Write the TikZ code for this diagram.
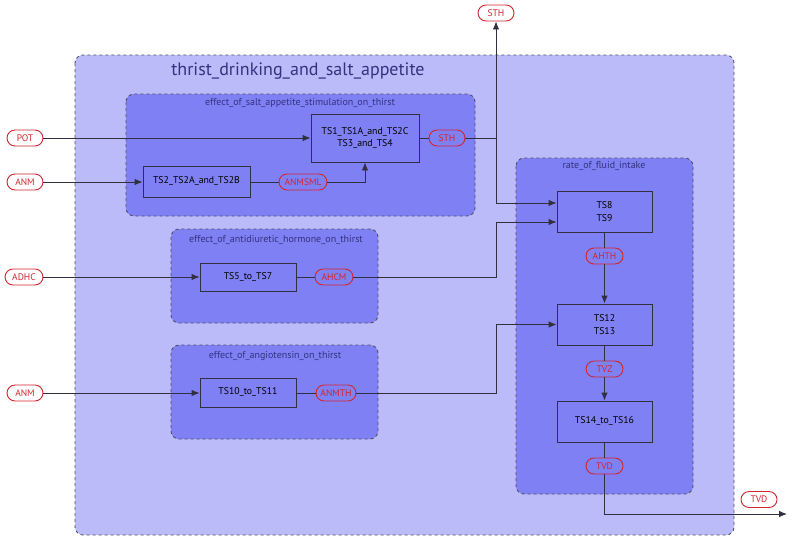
\documentclass[tikz,border=0pt]{standalone}
\usepackage{fontspec}
\setmainfont{PT Sans}
\usetikzlibrary{arrows.meta,shapes.misc}
\definecolor{outerfill}{HTML}{BBBBFA}
\definecolor{innerfill}{HTML}{8080F5}
\definecolor{grpborder}{HTML}{505060}
\definecolor{titleblue}{HTML}{33337F}
\definecolor{varred}{HTML}{D0262E}
\definecolor{linegray}{HTML}{303040}
\begin{document}
\begin{tikzpicture}[x=1pt,y=-1pt,
  outergrp/.style={draw=grpborder,dashed,fill=outerfill,rounded corners=8pt,line width=0.9pt},
  innergrp/.style={draw=grpborder,dashed,fill=innerfill,rounded corners=8pt,line width=0.9pt},
  procbox/.style={draw=linegray,fill=innerfill,line width=0.9pt,inner sep=0pt,align=center,font=\fontsize{9.8}{12.5}\selectfont},
  varnode/.style={draw=varred,rounded rectangle,text=varred,line width=0.9pt,inner sep=0pt,minimum height=16pt,font=\fontsize{9.5}{10}\selectfont},
  varin/.style={varnode,fill=white},
  conn/.style={draw=linegray,line width=0.9pt},
  arr/.style={conn,-{Latex[length=8pt,width=6.5pt]}},
  gtitle/.style={text=titleblue,font=\fontsize{10}{12}\selectfont,inner sep=0pt},
]
\useasboundingbox (0,0) rectangle (791,541);
% groups
\path[outergrp] (75,55) rectangle (734,535);
\node[gtitle,font=\fontsize{18}{21}\selectfont] (title) at (298,71) {thrist\_drinking\_and\_salt\_appetite};
\path[innergrp] (126,94) rectangle (475,216);
\node[gtitle] (g1) at (300,103) {effect\_of\_salt\_appetite\_stimulation\_on\_thirst};
\path[innergrp] (171,229) rectangle (378,323);
\node[gtitle] (g2) at (276,240) {effect\_of\_antidiuretic\_hormone\_on\_thirst};
\path[innergrp] (171,345) rectangle (378,439);
\node[gtitle] (g3) at (275,356) {effect\_of\_angiotensin\_on\_thirst};
\path[innergrp] (516,158) rectangle (693,494);
\node[gtitle] (g4) at (604,166) {rate\_of\_fluid\_intake};
% process boxes
\node[procbox,minimum width=108pt,minimum height=48pt] (ts1) at (365,138) {TS1\_TS1A\_and\_TS2C\\TS3\_and\_TS4};
\node[procbox,minimum width=107pt,minimum height=31pt] (ts2) at (196.5,181.5) {TS2\_TS2A\_and\_TS2B};
\node[procbox,minimum width=96pt,minimum height=28pt] (ts5) at (248,277) {TS5\_to\_TS7};
\node[procbox,minimum width=96pt,minimum height=29pt] (ts10) at (248,392.5) {TS10\_to\_TS11};
\node[procbox,minimum width=95pt,minimum height=41pt] (ts8) at (604.5,211.5) {TS8\\TS9};
\node[procbox,minimum width=95pt,minimum height=41pt] (ts12) at (604.5,324.5) {TS12\\TS13};
\node[procbox,minimum width=95pt,minimum height=41pt] (ts14) at (604.5,421.5) {TS14\_to\_TS16};
% variables
\node[varin,minimum width=36pt] (pot) at (25,138) {POT};
\node[varin,minimum width=36pt] (anm1) at (25,182) {ANM};
\node[varin,minimum width=38pt] (adhc) at (24,277) {ADHC};
\node[varin,minimum width=36pt] (anm2) at (25,393) {ANM};
\node[varin,minimum width=36pt] (sthout) at (496,13) {STH};
\node[varin,minimum width=36pt] (tvdout) at (759,499.5) {TVD};
\node[varnode,minimum width=48pt] (anmsml) at (303,182) {ANMSML};
\node[varnode,minimum width=36pt] (sthin) at (447,138) {STH};
\node[varnode,minimum width=38pt] (ahcm) at (334,277) {AHCM};
\node[varnode,minimum width=40pt] (anmth) at (336,393) {ANMTH};
\node[varnode,minimum width=37pt] (ahth) at (604.5,256) {AHTH};
\node[varnode,minimum width=37pt] (tvz) at (604.5,369) {TVZ};
\node[varnode,minimum width=37pt] (tvdin) at (604.5,466) {TVD};
\coordinate (jsth) at (496,138);
\coordinate (tvdend) at (787,514);
% connectors
\draw[arr] (pot.east) -- (ts1.west |- pot.east);
\draw[arr] (anm1.east) -- (ts2.west |- anm1.east);
\draw[conn] (ts2.east |- anmsml.west) -- (anmsml.west);
\draw[arr] (anmsml.east) -| (ts1.south);
\draw[conn] (ts1.east) -- (sthin.west);
\draw[conn] (sthin.east) -- (jsth);
\draw[arr] (jsth) -- (sthout.south);
\draw[arr] (jsth) |- ([yshift=8.5pt]ts8.west);
\draw[arr] (ahcm.east) -- (496,277) |- ([yshift=-10.5pt]ts8.west);
\draw[arr] (adhc.east) -- (ts5.west |- adhc.east);
\draw[conn] (ts5.east) -- (ahcm.west);
\draw[arr] (anm2.east) -- (ts10.west |- anm2.east);
\draw[conn] (ts10.east |- anmth.west) -- (anmth.west);
\draw[arr] (anmth.east) -- (496,393) |- (ts12.west);
\draw[conn] (ts8.south) -- (ahth.north);
\draw[arr] (ahth.south) -- (ts12.north);
\draw[conn] (ts12.south) -- (tvz.north);
\draw[arr] (tvz.south) -- (ts14.north);
\draw[conn] (ts14.south) -- (tvdin.north);
\draw[arr] (tvdin.south) |- (tvdend);
\end{tikzpicture}
\end{document}
